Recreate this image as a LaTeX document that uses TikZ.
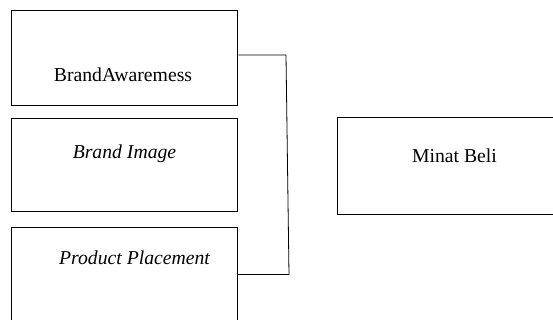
\documentclass[tikz,border=0pt]{standalone}
\usepackage{fontspec}
\setmainfont{Liberation Serif}
\begin{document}
\begin{tikzpicture}[x=1pt,y=-1pt,
  box/.style={draw,line width=1.4pt,rectangle,inner sep=0pt,anchor=north west},
  lbl/.style={anchor=base,inner sep=0pt,font=\fontsize{19.7}{23}\selectfont},
  conn/.style={line width=0.8pt}]
\useasboundingbox (0,0) rectangle (553,320);
\clip (0,0) rectangle (553,320);
\fill[white] (0,0) rectangle (553,320);
\node[box,minimum width=226pt,minimum height=95pt] (b1) at (11,10) {};
\node[box,minimum width=226pt,minimum height=93pt] (b2) at (11,118) {};
\node[box,minimum width=226pt,minimum height=110pt] (b3) at (11,227) {};
\node[box,minimum width=230pt,minimum height=97pt] (b4) at (337,117) {};
\node[lbl] (t1) at (123,82) {BrandAwaremess};
\node[lbl,font=\fontsize{19.7}{23}\selectfont\itshape] (t2) at (124.5,159) {Brand Image};
\node[lbl,font=\fontsize{19.7}{23}\selectfont\itshape] (t3) at (134.5,264) {Product Placement};
\node[lbl] (t4) at (454.5,163) {Minat Beli};
\coordinate (c1) at (286,55);
\coordinate (c2) at (289,275);
\draw[conn] (b1.east |- c1) -- (c1) -- (c2);
\draw[conn] (b3.east |- 0,274) -- (289,274);
\end{tikzpicture}
\end{document}
